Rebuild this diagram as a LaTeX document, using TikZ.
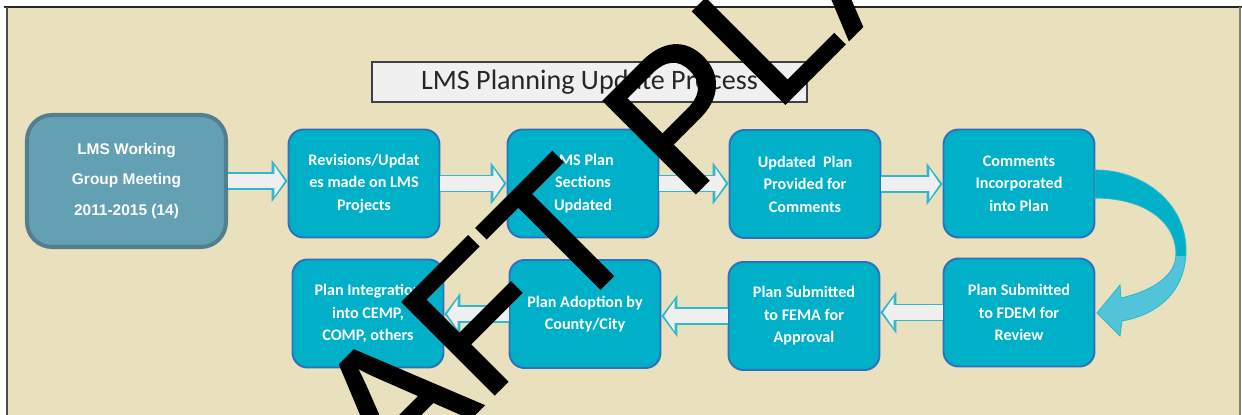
\documentclass[tikz,border=0pt]{standalone}
\usepackage{fontspec}
\usepackage{tikz}
\usetikzlibrary{arrows.meta,calc}

\newfontfamily\boxfont{Carlito}
\newfontfamily\headfont{Liberation Sans}
\newfontfamily\markfont[FakeBold=1]{Liberation Sans}

\definecolor{paper}{RGB}{233,224,190}
\definecolor{stepfill}{RGB}{0,176,200}
\definecolor{stepline}{RGB}{46,112,190}
\definecolor{meetfill}{RGB}{100,160,180}
\definecolor{meetline}{RGB}{82,126,142}
\definecolor{arrowline}{RGB}{48,184,204}
\definecolor{arrowfill}{RGB}{239,239,239}
\definecolor{turnlight}{RGB}{82,196,218}

\tikzset{
  stepbox/.style={rectangle, rounded corners=0.3cm, draw=stepline, line width=1.1pt,
    fill=stepfill, text=white, minimum width=3.02cm, minimum height=2.16cm,
    inner sep=0pt, align=center, font=\boxfont\bfseries\fontsize{9.2}{12.8}\selectfont},
  meetbox/.style={rectangle, rounded corners=0.5cm, draw=meetline, line width=2.3pt,
    fill=meetfill, text=white, minimum width=3.98cm, minimum height=2.64cm,
    inner sep=0pt, align=center, font=\headfont\bfseries\fontsize{8.8}{17.6}\selectfont},
  titlebox/.style={rectangle, draw=black!75, line width=0.9pt, fill=black!6,
    minimum width=8.7cm, minimum height=0.8cm, inner sep=0pt,
    font=\boxfont\fontsize{16}{18}\selectfont, text=black!85},
  % hollow block arrow: cyan rim, light body
  flow/.style={draw=arrowline, line width=10.2pt, -{Triangle[length=9pt,width=23.5pt]},
    postaction={draw=arrowfill, line width=8pt, -{Triangle[length=6pt,width=17pt]}, shorten >=1.5pt}}
}

\begin{document}
\begin{tikzpicture}[x=0.02cm, y=-0.02cm]
\useasboundingbox (0,0) rectangle (1242,415);

% page and frame
\fill[white] (0,0) rectangle (1242,415);
\fill[paper] (7,7) rectangle (1240,415);
\draw[black!85, line width=1.7pt] (4,7) -- (1242,7);
\draw[black!70, line width=1pt] (7,7) -- (7,415);
\draw[black!50, line width=0.8pt] (1240,7) -- (1240,415);

\node (title) at (589.5,82) [titlebox] {LMS Planning Update Process};

% first row
\node (meet) at (126.5,181) [meetbox] {LMS Working\\Group Meeting\\2011-2015 (14)};
\node (rev) at (364,183.5) [stepbox] {Revisions/Updat\\es made on LMS\\Projects};
\node (sect) at (583,183.5) [stepbox] {LMS Plan\\Sections\\Updated};
\node (prov) at (805,184) [stepbox] {Updated\ \ Plan\\Provided for\\Comments};
\node (incl) at (1019,183.5) [stepbox] {Comments\\Incorporated\\into Plan};

% second row
\node (integ) at (368,313.5) [stepbox] {Plan Integration\\into CEMP,\\COMP, others};
\node (adopt) at (585,314) [stepbox] {Plan Adoption by\\County/City};
\node (fema) at (804,316) [stepbox] {Plan Submitted\\to FEMA for\\Approval};
\node (fdem) at (1019,312.5) [stepbox] {Plan Submitted\\to FDEM for\\Review};

\draw [flow] (meet.east) -- (meet.east -| rev.west);
\draw [flow] (rev.east) -- (rev.east -| sect.west);
\draw [flow] (sect.east) -- (sect.east -| prov.west);
\draw [flow] (prov.east) -- (prov.east -| incl.west);
\draw [flow] (fdem.west) -- (fdem.west -| fema.east);
\draw [flow] (fema.west) -- (fema.west -| adopt.east);
\draw [flow] (adopt.west) -- (adopt.west -| integ.east);

% turn-around arrow on the right
\path (1095,170) coordinate (turnA) (1095,198) coordinate (turnB) (1097,313) coordinate (turnTip);
\def\turnpath{(turnA) .. controls (1145,170) and (1187,205) .. (1186,252)
  .. controls (1185,290) and (1160,314) .. (1122,321) -- (1120,336) -- (turnTip)
  -- (1120,285) -- (1121,298) .. controls (1152,291) and (1176,276) .. (1176,254)
  .. controls (1176,222) and (1145,198) .. (turnB) -- cycle}
\fill[turnlight] \turnpath;
\begin{scope}
  \clip (1090,150) rectangle (1200,256);
  \fill[stepfill] \turnpath;
\end{scope}
\draw[arrowline, line width=0.5pt] \turnpath;

% watermark over everything
\begin{scope}
  \clip (0,0) rectangle (1242,415);
  \node (mark) at (618,271) [rotate=45, anchor=base, inner sep=0pt,
    font=\markfont\fontsize{108}{108}\selectfont] {DRAFT PLAN};
\end{scope}
\end{tikzpicture}
\end{document}
